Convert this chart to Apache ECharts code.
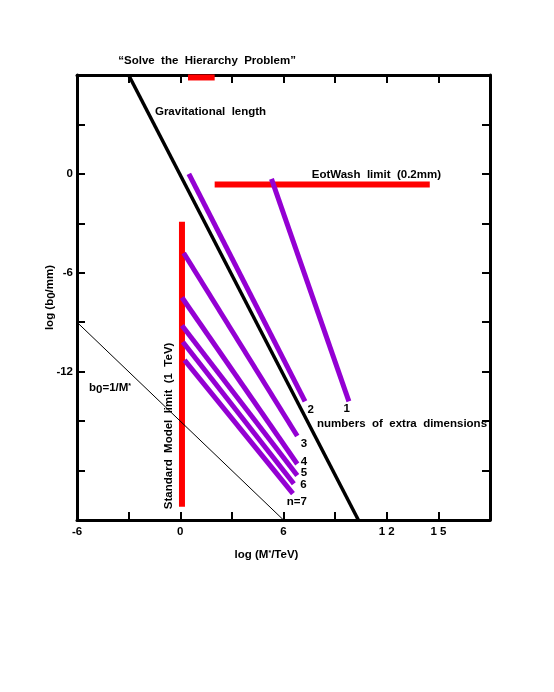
<!DOCTYPE html>
<html>
<head>
<meta charset="utf-8">
<title>extra dimensions</title>
<script src="https://cdn.jsdelivr.net/npm/echarts@6/dist/echarts.min.js"></script>
<style>
  body { margin: 0; background: #fff; }
  #chart { width: 554px; height: 692px; }
</style>
</head>
<body>
<div id="chart"></div>
<script>
// axis ticks
var xTickVals = [-6, 0, 6, 12, 15];
var xTickText = ['-6', '0', '6', '1 2', '1 5'];
var yTickVals = [0, -6, -12];
var yTickText = ['0', '-6', '-12'];

// black lines
var gravX = [-3, 10.35];
var gravY = [6, -21];
var invX = [-6, 6];           // b0 = 1/M*
var invY = [-9, -21];

// red limits
var hierX = [0.45, 2.0];
var hierY = [5.85, 5.85];
var eotX = [2.0, 14.5];
var eotY = [-0.65, -0.65];
var smX = [0.1, 0.1];
var smY = [-2.9, -20.2];

// purple lines, n = 1..7  (start x, end x / start y, end y)
var nX = [[5.3, 9.8], [0.5, 7.25], [0.2, 6.8], [0.1, 6.8], [0.1, 6.8], [0.15, 6.6], [0.25, 6.55]];
var nY = [[-0.3, -13.8], [0, -13.8], [-4.8, -15.9], [-7.5, -17.6], [-9.2, -18.3], [-10.2, -18.8], [-11.3, -19.4]];

// annotations (anchor in data units)
var leftText = ['Gravitational  length', 'EotWash  limit  (0.2mm)', 'numbers  of  extra  dimensions', '{t|b}{s|0}{t|=1/M}{p|*}'];
var leftX = [-1.47, 7.64, 7.95, -5.3];
var leftY = [3.76, -0.06, -15.17, -12.99];
var midText = ['\u201cSolve  the  Hierarchy  Problem\u201d', '1', '2', '3', '4', '5', '6', 'n=7'];
var midX = [1.56, 9.67, 7.58, 7.19, 7.19, 7.19, 7.16, 6.77];
var midY = [6.86, -14.26, -14.32, -16.38, -17.46, -18.16, -18.87, -19.88];
var smText = 'Standard  Model  limit  (1  TeV)';
var smPos = [-0.64, -15.29];

var FONT = '"Liberation Sans", Arial, sans-serif';
var PURPLE = '#9400d3';
var RED = '#ff0000';
var FS = 11.5;

function pairs(xs, ys) {
  return xs.map(function (x, i) { return [x, ys[i]]; });
}

function seg(xs, ys, color, width, z) {
  return {
    type: 'line',
    data: pairs(xs, ys),
    symbol: 'none',
    silent: true,
    z: z,
    lineStyle: { color: color, width: width, cap: 'butt' }
  };
}

var txt = { fontFamily: FONT, fontWeight: 'bold', fontSize: FS, color: '#000', opacity: 1 };
var rich = {
  t: { fontFamily: FONT, fontWeight: 'bold', fontSize: FS, color: '#000' },
  s: { fontFamily: FONT, fontWeight: 'bold', fontSize: FS, color: '#000', padding: [4, 0, 0, 0] },
  p: { fontFamily: FONT, fontWeight: 'bold', fontSize: 7, color: '#000', padding: [0, 0, 3, 0] }
};

var series = [];
series.push(seg(smX, smY, RED, 6, 2));
series.push(seg(hierX, hierY, RED, 6, 2));
series.push(seg(eotX, eotY, RED, 6, 2));
series.push(seg(gravX, gravY, '#000', 3.5, 3));
for (var i = 0; i < nX.length; i++) {
  series.push(seg(nX[i], nY[i], PURPLE, 5, 4));
}
series.push(seg(invX, invY, '#000', 1, 5));

function notes(data, label) {
  return {
    type: 'scatter', symbolSize: 0, clip: false, silent: true, z: 10,
    itemStyle: { opacity: 1 },
    data: data,
    label: Object.assign({ show: true, formatter: '{b}' }, txt, label)
  };
}
series.push(notes(leftText.map(function (t, i) { return { name: t, value: [leftX[i], leftY[i]] }; }),
  { position: 'right', distance: 0, rich: rich }));
series.push(notes(midText.map(function (t, i) { return { name: t, value: [midX[i], midY[i]] }; }),
  { position: 'inside' }));
series.push(notes([{ name: smText, value: smPos }], { position: 'inside', rotate: 90 }));

var axisLine = { show: true, onZero: false, lineStyle: { color: '#000', width: 3 } };
var tick = { show: true, inside: true, length: 8, lineStyle: { color: '#000', width: 2 } };

var chart = echarts.init(document.getElementById('chart'));
chart.setOption({
  animation: false,
  backgroundColor: '#fff',
  grid: { left: 77, right: 64, top: 75, bottom: 172 },
  xAxis: [{
    type: 'value', min: -6, max: 18, interval: 3, position: 'bottom',
    axisLine: axisLine, axisTick: tick, splitLine: { show: false },
    axisLabel: Object.assign({
      margin: 6, showMaxLabel: false,
      formatter: function (v) { var k = xTickVals.indexOf(v); return k < 0 ? '' : xTickText[k]; }
    }, txt),
    name: '{t|log (M}{p|*}{t|/TeV)}', nameLocation: 'middle', nameGap: 29, nameMoveOverlap: false,
    nameTextStyle: { rich: rich, padding: [0, 34, 0, 0] }
  }, {
    type: 'value', min: -6, max: 18, interval: 3, position: 'top',
    axisLine: axisLine, axisTick: tick, splitLine: { show: false }, axisLabel: { show: false }
  }],
  yAxis: [{
    type: 'value', min: -21, max: 6, interval: 3, position: 'left',
    axisLine: axisLine, axisTick: tick, splitLine: { show: false },
    axisLabel: Object.assign({
      margin: 4,
      formatter: function (v) { var k = yTickVals.indexOf(v); return k < 0 ? '' : yTickText[k]; }
    }, txt),
    name: '{t|log (b}{s|0}{t|/mm)}', nameLocation: 'middle', nameGap: 19, nameRotate: 90,
    nameMoveOverlap: false,
    nameTextStyle: { rich: rich }
  }, {
    type: 'value', min: -21, max: 6, interval: 3, position: 'right',
    axisLine: axisLine, axisTick: tick, splitLine: { show: false }, axisLabel: { show: false }
  }],
  series: series
});
</script>
</body>
</html>
